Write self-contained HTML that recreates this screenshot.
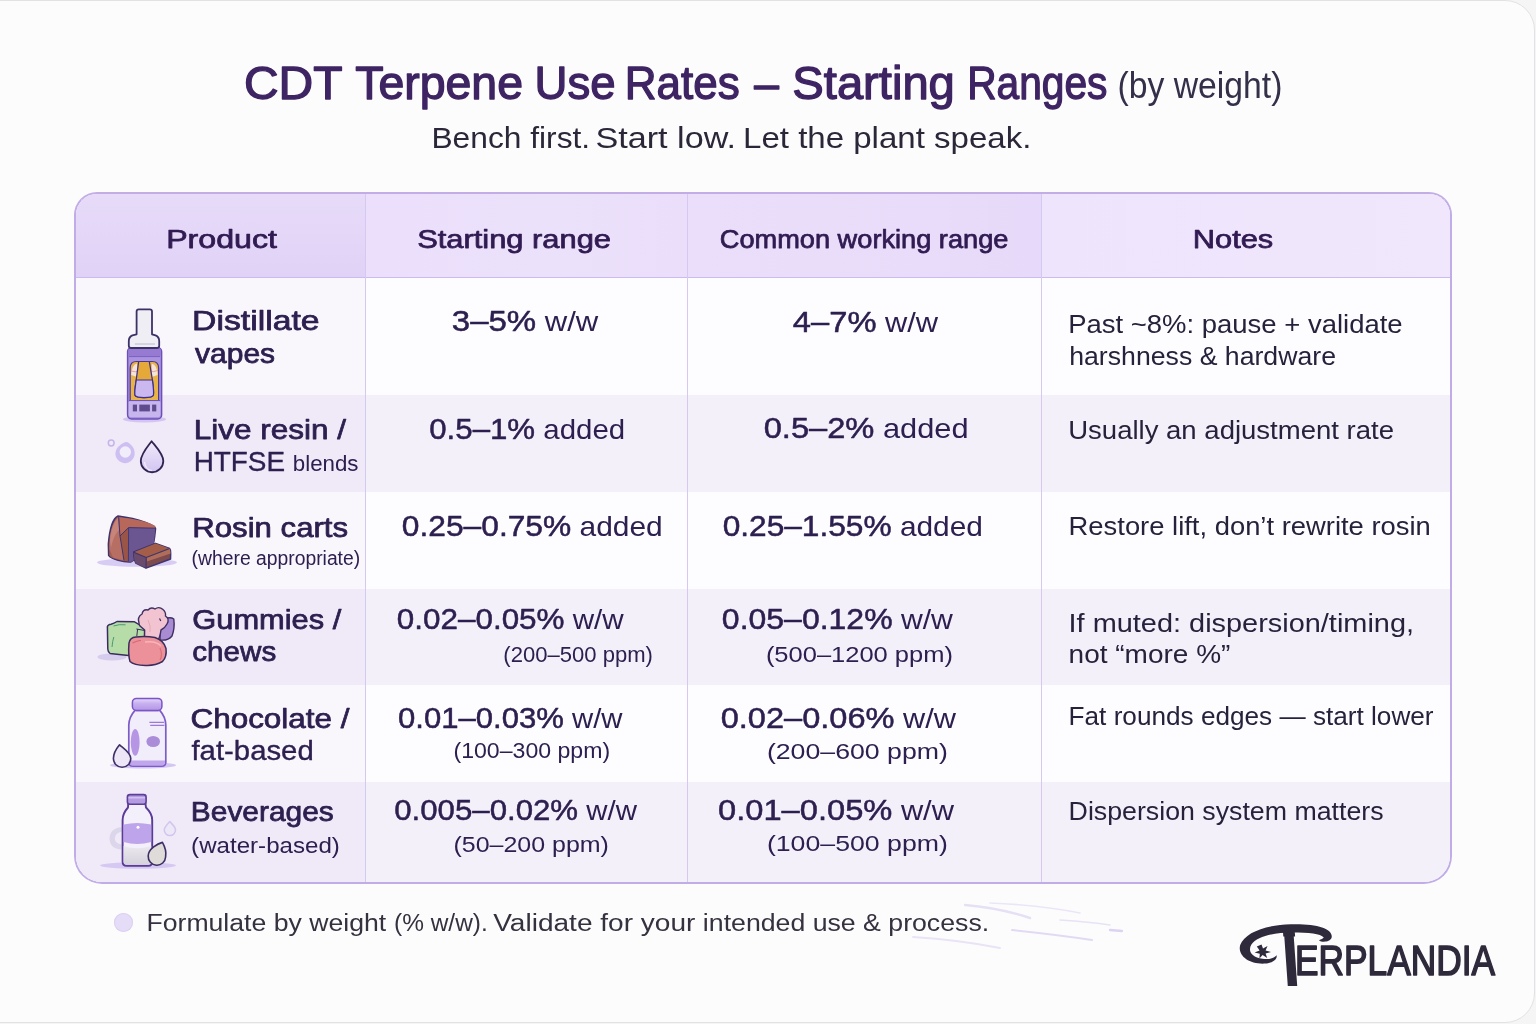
<!DOCTYPE html>
<html lang="en"><head><meta charset="utf-8"><title>CDT Terpene Use Rates — Starting Ranges</title>
<style>
html,body{margin:0;padding:0;}
body{width:1536px;height:1024px;overflow:hidden;position:relative;background:#f5f5f6;font-family:"Liberation Sans",Arial,sans-serif;}
.card{position:absolute;left:-2px;top:0;width:1537px;height:1023px;box-sizing:border-box;border:1.5px solid #e2e2e4;border-radius:0 30px 30px 0;background:#fdfcfd;}
.tbl{position:absolute;left:74px;top:192px;width:1378px;height:692px;box-sizing:border-box;border:2px solid #c0ace7;border-top-color:#c3ade5;border-radius:23px 23px 28px 28px;overflow:hidden;background:#fdfcfe;}
.row{position:absolute;left:0;width:100%;}
.hd{top:0;height:84px;box-sizing:border-box;background:#ebe0fb;border-bottom:1.5px solid #cbbbef;}
.hc{position:absolute;top:0;height:82.5px;}
.hd1{left:0;width:289px;background:linear-gradient(180deg,#e7dbf9 0%,#e0d2f6 100%);}
.hd2{left:289px;width:321.5px;background:linear-gradient(90deg,#ebdffb 0%,#ece1fb 60%,#eadefa 100%);}
.hd3{left:610.5px;width:354px;background:linear-gradient(90deg,#eadefa 0%,#e9dcfa 70%,#e6d9f9 100%);}
.hd4{left:964.5px;width:410px;background:linear-gradient(90deg,#eee4fc 0%,#f0e7fc 100%);}
.w{background:#fdfcfe;}
.t{background:#f4f0fa;}
.c1{position:absolute;left:0;top:0;bottom:0;width:289px;}
.w .c1{background:#f9f6fc;}
.t .c1{background:#f0e9f8;}
.vl{position:absolute;top:0;bottom:0;width:1.2px;background:#d5c9f2;}
.hd .vl{background:#cbbcec;}
.dot{position:absolute;left:114px;top:913px;width:19px;height:19px;border-radius:50%;background:#e5dcf7;box-shadow:inset 0 0 0 1px #dcd0f3;}
.ov{position:absolute;left:0;top:0;}
.ov text{stroke-linejoin:round;font-family:"Liberation Sans",Arial,sans-serif;}
.med{stroke-width:0.35px;}
.sb{stroke-width:0.75px;}
.tb{stroke-width:1.3px;}
.nb{stroke-width:0.5px;}

</style></head>
<body>
<div class="card"></div>
<div class="tbl">
  <div class="row hd"><div class="hc hd1"></div><div class="hc hd2"></div><div class="hc hd3"></div><div class="hc hd4"></div></div>
  <div class="row w" style="top:84px;height:117px"><div class="c1"></div></div>
  <div class="row t" style="top:201px;height:97px"><div class="c1"></div></div>
  <div class="row w" style="top:298px;height:97px"><div class="c1"></div></div>
  <div class="row t" style="top:395px;height:96px"><div class="c1"></div></div>
  <div class="row w" style="top:491px;height:97px"><div class="c1"></div></div>
  <div class="row t" style="top:588px;height:102px"><div class="c1"></div></div>
  <div class="vl" style="left:289px"></div>
  <div class="vl" style="left:610.5px"></div>
  <div class="vl" style="left:964.5px"></div>
</div>
<div class="dot"></div>

<svg class="ov" width="1536" height="1024" viewBox="0 0 1536 1024">
<defs>
  <linearGradient id="gDrop" x1="0" y1="0" x2="0" y2="1">
    <stop offset="0" stop-color="#f1ecfb"/><stop offset="1" stop-color="#d2c4f1"/>
  </linearGradient>
  <linearGradient id="gLid" x1="0" y1="0" x2="0" y2="1">
    <stop offset="0" stop-color="#e6dafa"/><stop offset="0.45" stop-color="#c7aef0"/><stop offset="1" stop-color="#b497e6"/>
  </linearGradient>
  <linearGradient id="gGray" x1="0" y1="0" x2="0" y2="1">
    <stop offset="0" stop-color="#ebe8ef"/><stop offset="1" stop-color="#d6d2dc"/>
  </linearGradient>
</defs>

<!-- ===== vape cartridge ===== -->
<g id="ic-vape">
  <ellipse cx="144.5" cy="419.3" rx="21.5" ry="3.2" fill="#d3c5f1"/>
  <!-- body -->
  <rect x="127.6" y="347.5" width="34" height="71.5" rx="4" fill="#ab93de" stroke="#6c4fba" stroke-width="1.5"/>
  <rect x="128.4" y="348.2" width="32.4" height="8.4" rx="2" fill="#977bd3"/>
  <line x1="129" y1="356.6" x2="160" y2="356.6" stroke="#7a5fc2" stroke-width="1"/>
  <!-- window -->
  <path d="M130.2,400.5 L130.2,368 Q130.2,361.5 136.5,361.5 L152.3,361.5 Q158.6,361.5 158.6,368 L158.6,400.5 Z" fill="#e8b347" stroke="#4b3a8c" stroke-width="1.2"/>
  <path d="M131.2,375 Q131.5,365 137,363.5 L137.2,377 Z" fill="#f6e9ea" opacity="0.9"/>
  <path d="M157.6,375 Q157.3,365 151.8,363.5 L151.6,377 Z" fill="#f6e9ea" opacity="0.9"/>
  <path d="M130.8,371 Q136,373 140,370" stroke="#d98a8a" stroke-width="0.7" fill="none"/>
  <path d="M148.6,370 Q153,373 158,370.5" stroke="#d98a8a" stroke-width="0.7" fill="none"/>
  <!-- inner tube -->
  <path d="M138.6,362 L136.2,380 Q134.3,392 135,395.3 Q136,397.6 144,397.6 Q152.6,397.6 153.4,395 Q154,392 152.4,380 L149.4,362" fill="#e5a93a" stroke="#3f318a" stroke-width="1.3"/>
  <path d="M136.3,380 L152.4,380 Q154,392 153.4,395 Q152.6,397.6 144,397.6 Q136,397.6 135,395.3 Q134.3,392 136.3,380 Z" fill="#cbb8ee" stroke="#3f318a" stroke-width="1.2"/>
  <!-- base -->
  <rect x="128.6" y="400.5" width="31.8" height="16.5" rx="2" fill="#c7b6ee"/>
  <line x1="129" y1="400.6" x2="160" y2="400.6" stroke="#6d52b5" stroke-width="1"/>
  <rect x="132.8" y="404.6" width="4.2" height="6.8" fill="#5f4c8f"/>
  <rect x="139.3" y="404.6" width="10.6" height="6.8" fill="#5f4c8f"/>
  <rect x="152.1" y="404.6" width="4.2" height="6.8" fill="#5f4c8f"/>
  <!-- mouthpiece -->
  <path d="M136.6,334.3 L136.6,311.6 Q136.6,309.4 138.8,309.4 L149.8,309.4 Q152,309.4 152,311.6 L152,334.3 L155.6,335.4 Q159.2,337 159.2,341 L159.2,345.8 Q159.2,348 157,348 L131,348 Q128.8,348 128.8,345.8 L128.8,341 Q128.8,337 132.4,335.4 Z" fill="#efeef4" stroke="#3c3268" stroke-width="1.8" stroke-linejoin="round"/>
  <line x1="134.8" y1="344" x2="155" y2="344" stroke="#b7b2c8" stroke-width="0.9"/>
</g>

<!-- ===== droplets (live resin) ===== -->
<g id="ic-drops">
  <circle cx="111.2" cy="443" r="2.9" fill="none" stroke="#c5b5ea" stroke-width="1.5"/>
  <path d="M125,442.2 Q127.5,441.8 129.5,443.5 Q134.8,448 134.6,452.6 A9.6,9.6 0 1 1 118,447 Q120,444 125,442.2 Z" fill="#cdbff1"/>
  <circle cx="125.3" cy="452" r="5.7" fill="#f2edfa"/>
  <path d="M151.6,441.2 C148,446 140.8,454 140.8,461 A11.2,11.2 0 0 0 163.3,461 C163.3,454 155.3,446 151.6,441.2 Z" fill="url(#gDrop)" stroke="#2f2550" stroke-width="1.8" stroke-linejoin="round"/>
  <path d="M144.5,462 Q145.5,470 152,470.5" fill="none" stroke="#ffffff" stroke-width="1.2" opacity="0.7"/>
</g>

<!-- ===== rosin blocks ===== -->
<g id="ic-rosin" stroke-linejoin="round">
  <ellipse cx="137" cy="562.5" rx="40" ry="4.3" fill="#d7ccf4"/>
  <path d="M118,516 C113,518 109.5,530 108.3,544 L108.6,555.5 C111,559.5 124,562.5 131,562 L151.6,548.6 C154,546 154.5,540 155.6,528.5 C155.5,525.2 140,519 118,516 Z" fill="#a85d4f" stroke="#3d3471" stroke-width="1.4"/>
  <path d="M120,536 L128.6,527.6 L128.4,561.4 L124,560.5 Z" fill="#9a5546"/>
  <path d="M128.6,527.6 L155,528.2 C154.4,540 154,545.5 151.6,548.6 L131,562 L128.4,561.4 Z" fill="#6b5692"/>
  <path d="M128.6,527.6 L128.4,561.4" stroke="#3d3471" stroke-width="0.9"/>
  <path d="M120,536 L128.6,527.6 L155,528.2 L155.4,526 C150,522.5 135,518.5 120,517.5 Z" fill="#b8685a"/>
  <path d="M118.6,517.2 L120,536 L124,560.5 L113,557.5 L109.5,549 L110,538 C111,528 114,520 118.6,517.2 Z" fill="#b86f63"/>
  <path d="M110,540 C111,530 114,522 118,518 L119,530 C116,533 113,538 111,548 Z" fill="#c98a80" opacity="0.8"/>
  <path d="M120,536 L128.6,527.6 L155,528.2" fill="none" stroke="#3d3471" stroke-width="1"/>
  <path d="M118.6,517.2 L120,536 L124,560.5" fill="none" stroke="#3d3471" stroke-width="1"/>
  <!-- small block -->
  <path d="M133.7,552 L155.6,543.3 L169.6,548.4 Q171,550 170.7,553 L170.6,559 L146,568.2 L135.8,563.2 Q134,560 133.7,555 Z" fill="#7d4a4d" stroke="#3d3471" stroke-width="1.4"/>
  <path d="M133.8,552.2 L155.6,543.4 L169.6,548.4 L146.2,557.6 Z" fill="#a45e48"/>
  <path d="M146.2,557.6 L169.8,548.6 L170.6,553.5 L147,561.6 Z" fill="#b06e5a"/>
  <path d="M133.8,552.2 L146.2,557.6 L146,568 L135.8,563.2 Q134,560 133.8,555 Z" fill="#6a4b6d"/>
  <path d="M133.8,552.2 L146.2,557.6 L169.6,548.4 M146.2,557.6 L146,568" fill="none" stroke="#3d3471" stroke-width="1.1"/>
</g>

<!-- ===== gummies ===== -->
<g id="ic-gummy" stroke-linejoin="round">
  <ellipse cx="112" cy="657" rx="14.5" ry="3.4" fill="#d6cdee"/>
  <!-- back purple side -->
  <path d="M160,620 Q170,616 173.8,619 Q175,628 172,636 Q168,641 160,640 Z" fill="#a98bd4" stroke="#3f2f62" stroke-width="1.4"/>
  <!-- pink flower -->
  <path d="M139,623 Q137,617 142,614 Q143,609 148,610 Q151,606.5 155,609 Q159,606 163,609.5 Q166,612 165.5,616 Q170,619 167,624 Q165,628 161,630 Q160,637 158,640 L146,640 Q138,633 139,623 Z" fill="#f2c3d0" stroke="#3f2f62" stroke-width="1.4"/>
  <path d="M159.5,618.5 L160.8,621" stroke="#3f2f62" stroke-width="1.2"/>
  <path d="M148,620 Q151,626 150,632" stroke="#e6a8b8" stroke-width="1" fill="none"/>
  <!-- green cube -->
  <path d="M107.4,626.5 Q108,624.5 111,624.2 Q114,623.5 117,621.5 L134.5,621.8 Q139,624 140,626 L144.6,630 L144.4,640.5 Q137,647 128.4,655.4 L110,653.4 Q108,652.4 107.8,649 Z" fill="#b6dca8" stroke="#3a2d5e" stroke-width="1.5"/>
  <path d="M113.5,626 Q119,624 125.6,624.8" stroke="#4c9a73" stroke-width="1" fill="none"/>
  <path d="M113.8,637 Q112.5,641 112,647" stroke="#4c9a73" stroke-width="1" fill="none"/>
  <path d="M136.4,629 L144,630.4 M137.6,629.2 L136.8,636" stroke="#3a2d5e" stroke-width="1" fill="none"/>
  <!-- red gummy -->
  <path d="M129,643 Q129.8,637.5 136,637 Q146,636 155,637.5 Q164,640.5 166,648.5 Q167,657 162.5,661.5 Q155,665.8 146,665.4 Q134,665.5 130,661.5 Q128,655 129,643 Z" fill="#ec9199" stroke="#3a2d5e" stroke-width="1.5"/>
  <path d="M132.5,643 Q138,640 141,640.5" stroke="#d96572" stroke-width="1.1" fill="none"/>
  <path d="M145,642 Q156,640.5 161,646" stroke="#f5b6bb" stroke-width="1.6" fill="none"/>
  <path d="M160,648 Q163,655 160,660" stroke="#d9707a" stroke-width="1.2" fill="none"/>
</g>

<!-- ===== chocolate / fat jar ===== -->
<g id="ic-jar" stroke-linejoin="round">
  <ellipse cx="143" cy="765.3" rx="33" ry="3.2" fill="#d4c6f3"/>
  <!-- body -->
  <path d="M135,710.4 L159.8,710.4 Q165.6,717 165.8,725 L165.8,762 Q165.8,766.2 161.6,766.2 L133,766.2 Q128.8,766.2 128.8,762 L128.8,725 Q129,717 135,710.4 Z" fill="#f2edfb" stroke="#7d5cc8" stroke-width="1.7"/>
  <path d="M129.6,760.5 L165,760.5 L165,762 Q165,765.4 161.6,765.4 L133,765.4 Q129.6,765.4 129.6,762 Z" fill="#c0a6ec"/>
  <ellipse cx="135.2" cy="742.3" rx="4.4" ry="13.4" fill="#b696e4"/>
  <ellipse cx="153.2" cy="741.5" rx="6.8" ry="5.5" fill="#ab8cd9"/>
  <path d="M149.4,722.4 L164,722.4 M150.2,725.4 L164.4,725.4" stroke="#9a7ad6" stroke-width="1.2"/>
  <!-- lid -->
  <rect x="132.4" y="698.4" width="29.5" height="12" rx="4" fill="url(#gLid)" stroke="#7a55c4" stroke-width="1.5"/>
  <!-- drop -->
  <path d="M119.6,744.8 C117,748 113.4,752 113.4,758.6 A8.7,8.7 0 0 0 130.8,758.6 C130.8,752.6 123,748 119.6,744.8 Z" fill="#ece6f7" stroke="#3d2f66" stroke-width="1.6"/>
</g>

<!-- ===== beverage bottle ===== -->
<g id="ic-bottle" stroke-linejoin="round">
  <ellipse cx="138" cy="865.5" rx="38" ry="3.2" fill="#d5c8f3"/>
  <!-- ring behind -->
  <path d="M121.6,827.2 Q110,828 109.5,838.5 Q110,849 121.6,849.4 L121.6,844.5 Q115,843.5 114.8,838.5 Q115.5,832.5 121.6,831.8 Z" fill="#dcd6ea"/>
  <!-- small floating drop -->
  <path d="M169.8,821.6 C167.5,824 164.3,827 164.3,830 A5.6,5.6 0 0 0 175.5,830 C175.5,827 172,824 169.8,821.6 Z" fill="#ede8f7" stroke="#d1c6ec" stroke-width="1.5"/>
  <!-- bottle -->
  <path d="M128.2,803.6 L145.4,803.6 L146,807.5 Q152.2,813.5 152.2,820 L152.2,861.8 Q152.2,865.8 148.2,865.8 L126.6,865.8 Q122.6,865.8 122.6,861.8 L122.6,820 Q122.6,813.5 128,807.5 Z" fill="#f4f0fb" stroke="#5a3b98" stroke-width="1.9"/>
  <path d="M123.6,824.6 Q137,821.5 151.2,824.6 L151.2,842 Q137,846 123.6,842 Z" fill="#bea4ea"/>
  <path d="M123.6,846 Q137,850.5 151.2,846 L151.2,861.5 Q151.2,864.8 148,864.8 L126.8,864.8 Q123.6,864.8 123.6,861.5 Z" fill="url(#gGray)"/>
  <circle cx="138" cy="827.3" r="1.5" fill="#ffffff"/>
  <!-- cap -->
  <rect x="127.4" y="794.6" width="18.7" height="9.6" rx="2.5" fill="#b59be1" stroke="#5d3f9a" stroke-width="1.6"/>
  <line x1="128.5" y1="797.8" x2="145" y2="797.8" stroke="#d9cbf3" stroke-width="1.2"/>
  <!-- front drop -->
  <path d="M162.4,842.4 C158,843.5 148.2,849 148.2,856 A8.6,8.6 0 0 0 165.6,857 C166.5,852 164.5,846 162.4,842.4 Z" fill="#dedbd8" stroke="#3d2f66" stroke-width="1.6"/>
</g>

<!-- ===== footer brush strokes ===== -->
<g id="strokes" fill="none" stroke-linecap="round">
  <path d="M965,905 Q1000,908 1030,918" stroke="#e6e0f5" stroke-width="2.4"/>
  <path d="M990,903 Q1040,905 1080,913" stroke="#ebe6f7" stroke-width="1.6"/>
  <path d="M1012,930 Q1060,935 1092,940" stroke="#e2daf4" stroke-width="2"/>
  <path d="M913,937 Q960,940 1000,948" stroke="#e9e3f6" stroke-width="1.8"/>
  <path d="M1060,920 Q1090,922 1110,925" stroke="#e8e2f6" stroke-width="1.5"/>
  <path d="M1110,930 L1122,931" stroke="#dcd3f2" stroke-width="2.4"/>
</g>

<g id="logo" fill="#2f2a3b">
  <path d="M1331.5,938 C1334,929 1318,923.5 1291,924.2 C1265,925 1245,932.5 1240.2,945 C1237.2,955.5 1249,964.5 1265,963.6 C1272.5,963 1277.5,959.5 1276.6,955.2 C1273.5,958.6 1268,959.6 1262.5,958.8 C1251.5,957.2 1247.6,950.8 1251.4,944.6 C1257,936.4 1274,932.6 1292,932.6 C1309,932.6 1320.6,933.8 1323.8,937.6 C1322.5,939.4 1320,939.6 1319,940.4 C1322,942.6 1330,942 1331.5,938 Z"/>
  <path d="M1261.5,944.5 L1263,948.5 L1267.5,946 L1265.6,950.6 L1271,952 L1265.6,953.4 L1267.2,958 L1262.6,955 L1259.4,958.6 L1259.8,953.8 L1254.6,952.4 L1259.6,950.4 L1256.8,946.4 Z"/>
  <clipPath id="tclip"><path d="M1283.8,931 L1295.6,931 L1295.6,990 L1283.8,990 Z"/></clipPath>
  <text clip-path="url(#tclip)" transform="skewX(4) translate(-66,0)" x="1269.5" y="986" font-size="86" font-weight="700" font-family="Liberation Sans, Arial, sans-serif" textLength="40" lengthAdjust="spacingAndGlyphs">T</text>
  <text x="1295" y="975" font-size="42" font-weight="400" stroke="#2f2a3b" stroke-width="1.6" stroke-linejoin="round" font-family="Liberation Sans, Arial, sans-serif" textLength="200" lengthAdjust="spacingAndGlyphs">ERPLANDIA</text>
</g>

<g class="tx">
<text id="t1" x="243.96" y="99.20" font-size="46.00" fill="#3e2463" stroke="#3e2463" stroke-width="0" textLength="98.68" lengthAdjust="spacingAndGlyphs"><tspan class="tb">CDT</tspan></text>
<text id="t2" x="355.16" y="99.20" font-size="46.00" fill="#3e2463" stroke="#3e2463" stroke-width="0" textLength="167.88" lengthAdjust="spacingAndGlyphs"><tspan class="tb">Terpene</tspan></text>
<text id="t3" x="534.56" y="99.20" font-size="46.00" fill="#3e2463" stroke="#3e2463" stroke-width="0" textLength="81.08" lengthAdjust="spacingAndGlyphs"><tspan class="tb">Use</tspan></text>
<text id="t4" x="624.76" y="99.20" font-size="46.00" fill="#3e2463" stroke="#3e2463" stroke-width="0" textLength="114.88" lengthAdjust="spacingAndGlyphs"><tspan class="tb">Rates</tspan></text>
<text id="t5" x="754.16" y="99.20" font-size="46.00" fill="#3e2463" stroke="#3e2463" stroke-width="0" textLength="24.68" lengthAdjust="spacingAndGlyphs"><tspan class="tb">–</tspan></text>
<text id="t6" x="792.36" y="99.20" font-size="46.00" fill="#3e2463" stroke="#3e2463" stroke-width="0" textLength="162.48" lengthAdjust="spacingAndGlyphs"><tspan class="tb">Starting</tspan></text>
<text id="t7" x="967.16" y="99.20" font-size="46.00" fill="#3e2463" stroke="#3e2463" stroke-width="0" textLength="140.28" lengthAdjust="spacingAndGlyphs"><tspan class="tb">Ranges</tspan></text>
<text id="title2" x="1117.52" y="97.80" font-size="37.00" fill="#34304a" stroke="#34304a" stroke-width="0" textLength="164.96" lengthAdjust="spacingAndGlyphs"><tspan>(by weight)</tspan></text>
<text id="sb1" x="431.45" y="147.60" font-size="28.70" fill="#2b2739" stroke="#2b2739" stroke-width="0" textLength="158.70" lengthAdjust="spacingAndGlyphs"><tspan>Bench first.</tspan></text>
<text id="sb2" x="595.45" y="147.60" font-size="28.70" fill="#2b2739" stroke="#2b2739" stroke-width="0" textLength="140.50" lengthAdjust="spacingAndGlyphs"><tspan>Start low.</tspan></text>
<text id="sb3" x="743.05" y="147.60" font-size="28.70" fill="#2b2739" stroke="#2b2739" stroke-width="0" textLength="288.30" lengthAdjust="spacingAndGlyphs"><tspan>Let the plant speak.</tspan></text>
<text id="h1" x="166.16" y="247.70" font-size="26.00" fill="#311b52" stroke="#311b52" stroke-width="0" textLength="110.88" lengthAdjust="spacingAndGlyphs"><tspan class="sb">Product</tspan></text>
<text id="h2" x="417.16" y="247.80" font-size="26.00" fill="#311b52" stroke="#311b52" stroke-width="0" textLength="193.88" lengthAdjust="spacingAndGlyphs"><tspan class="sb">Starting range</tspan></text>
<text id="h3" x="719.76" y="248.40" font-size="26.00" fill="#311b52" stroke="#311b52" stroke-width="0" textLength="288.68" lengthAdjust="spacingAndGlyphs"><tspan class="sb">Common working range</tspan></text>
<text id="h4" x="1192.76" y="247.70" font-size="26.00" fill="#311b52" stroke="#311b52" stroke-width="0" textLength="80.48" lengthAdjust="spacingAndGlyphs"><tspan class="sb">Notes</tspan></text>
<text id="p1a" x="192.08" y="330.20" font-size="28.00" fill="#2d2050" stroke="#2d2050" stroke-width="0" textLength="127.44" lengthAdjust="spacingAndGlyphs"><tspan class="sb">Distillate</tspan></text>
<text id="p1b" x="195.08" y="363.00" font-size="28.00" fill="#2d2050" stroke="#2d2050" stroke-width="0" textLength="80.04" lengthAdjust="spacingAndGlyphs"><tspan class="sb">vapes</tspan></text>
<text id="s1" x="451.88" y="331.30" font-size="28.00" fill="#2d2050" stroke="#2d2050" stroke-width="0" textLength="146.44" lengthAdjust="spacingAndGlyphs"><tspan class="nb" font-size="29.7">3–5%</tspan><tspan> w/w</tspan></text>
<text id="c1" x="792.88" y="331.60" font-size="28.00" fill="#2d2050" stroke="#2d2050" stroke-width="0" textLength="145.24" lengthAdjust="spacingAndGlyphs"><tspan class="nb" font-size="29.7">4–7%</tspan><tspan> w/w</tspan></text>
<text id="n1a" x="1068.19" y="332.60" font-size="25.30" fill="#26223b" stroke="#26223b" stroke-width="0" textLength="334.42" lengthAdjust="spacingAndGlyphs"><tspan>Past ~8%: pause + validate</tspan></text>
<text id="n1b" x="1069.19" y="364.80" font-size="25.30" fill="#26223b" stroke="#26223b" stroke-width="0" textLength="266.82" lengthAdjust="spacingAndGlyphs"><tspan>harshness &amp; hardware</tspan></text>
<text id="p2a" x="193.68" y="438.70" font-size="28.00" fill="#2d2050" stroke="#2d2050" stroke-width="0" textLength="152.44" lengthAdjust="spacingAndGlyphs"><tspan class="sb">Live resin /</tspan></text>
<text id="p2b" x="193.68" y="471.40" font-size="28.00" fill="#2d2050" stroke="#2d2050" stroke-width="0" textLength="164.84" lengthAdjust="spacingAndGlyphs"><tspan class="med">HTFSE</tspan><tspan> </tspan><tspan font-size="22.4">blends</tspan></text>
<text id="s2" x="429.28" y="438.50" font-size="28.00" fill="#2d2050" stroke="#2d2050" stroke-width="0" textLength="195.84" lengthAdjust="spacingAndGlyphs"><tspan class="nb" font-size="29.7">0.5–1%</tspan><tspan> added</tspan></text>
<text id="c2" x="763.68" y="437.90" font-size="28.00" fill="#2d2050" stroke="#2d2050" stroke-width="0" textLength="204.84" lengthAdjust="spacingAndGlyphs"><tspan class="nb" font-size="29.7">0.5–2%</tspan><tspan> added</tspan></text>
<text id="n2" x="1068.19" y="439.00" font-size="25.30" fill="#26223b" stroke="#26223b" stroke-width="0" textLength="325.82" lengthAdjust="spacingAndGlyphs"><tspan>Usually an adjustment rate</tspan></text>
<text id="p3a" x="192.28" y="536.50" font-size="28.00" fill="#2d2050" stroke="#2d2050" stroke-width="0" textLength="155.84" lengthAdjust="spacingAndGlyphs"><tspan class="sb">Rosin carts</tspan></text>
<text id="p3b" x="191.62" y="564.60" font-size="19.50" fill="#2d2050" stroke="#2d2050" stroke-width="0" textLength="168.56" lengthAdjust="spacingAndGlyphs"><tspan>(where appropriate)</tspan></text>
<text id="s3" x="401.88" y="535.70" font-size="28.00" fill="#2d2050" stroke="#2d2050" stroke-width="0" textLength="260.84" lengthAdjust="spacingAndGlyphs"><tspan class="nb" font-size="29.7">0.25–0.75%</tspan><tspan> added</tspan></text>
<text id="c3" x="722.68" y="535.70" font-size="28.00" fill="#2d2050" stroke="#2d2050" stroke-width="0" textLength="260.24" lengthAdjust="spacingAndGlyphs"><tspan class="nb" font-size="29.7">0.25–1.55%</tspan><tspan> added</tspan></text>
<text id="n3" x="1068.59" y="534.60" font-size="25.30" fill="#26223b" stroke="#26223b" stroke-width="0" textLength="362.22" lengthAdjust="spacingAndGlyphs"><tspan>Restore lift, don’t rewrite rosin</tspan></text>
<text id="p4a" x="192.28" y="629.00" font-size="28.00" fill="#2d2050" stroke="#2d2050" stroke-width="0" textLength="149.04" lengthAdjust="spacingAndGlyphs"><tspan class="sb">Gummies /</tspan></text>
<text id="p4b" x="192.28" y="661.00" font-size="28.00" fill="#2d2050" stroke="#2d2050" stroke-width="0" textLength="84.04" lengthAdjust="spacingAndGlyphs"><tspan class="sb">chews</tspan></text>
<text id="s4" x="396.88" y="628.90" font-size="28.00" fill="#2d2050" stroke="#2d2050" stroke-width="0" textLength="226.84" lengthAdjust="spacingAndGlyphs"><tspan class="nb" font-size="29.7">0.02–0.05%</tspan><tspan> w/w</tspan></text>
<text id="s4b" x="503.30" y="661.70" font-size="22.50" fill="#2d2050" stroke="#2d2050" stroke-width="0" textLength="149.60" lengthAdjust="spacingAndGlyphs"><tspan>(200–500 ppm)</tspan></text>
<text id="c4" x="721.88" y="628.90" font-size="28.00" fill="#2d2050" stroke="#2d2050" stroke-width="0" textLength="231.04" lengthAdjust="spacingAndGlyphs"><tspan class="nb" font-size="29.7">0.05–0.12%</tspan><tspan> w/w</tspan></text>
<text id="c4b" x="765.90" y="661.70" font-size="22.50" fill="#2d2050" stroke="#2d2050" stroke-width="0" textLength="187.00" lengthAdjust="spacingAndGlyphs"><tspan>(500–1200 ppm)</tspan></text>
<text id="n4a" x="1068.59" y="631.50" font-size="25.30" fill="#26223b" stroke="#26223b" stroke-width="0" textLength="345.42" lengthAdjust="spacingAndGlyphs"><tspan>If muted: dispersion/timing,</tspan></text>
<text id="n4b" x="1068.59" y="662.80" font-size="25.30" fill="#26223b" stroke="#26223b" stroke-width="0" textLength="161.82" lengthAdjust="spacingAndGlyphs"><tspan>not “more %”</tspan></text>
<text id="p5a" x="190.48" y="727.60" font-size="28.00" fill="#2d2050" stroke="#2d2050" stroke-width="0" textLength="159.04" lengthAdjust="spacingAndGlyphs"><tspan class="sb">Chocolate /</tspan></text>
<text id="p5b" x="191.48" y="759.60" font-size="28.00" fill="#2d2050" stroke="#2d2050" stroke-width="0" textLength="122.24" lengthAdjust="spacingAndGlyphs"><tspan class="med">fat-based</tspan></text>
<text id="s5" x="398.08" y="727.50" font-size="28.00" fill="#2d2050" stroke="#2d2050" stroke-width="0" textLength="224.44" lengthAdjust="spacingAndGlyphs"><tspan class="nb" font-size="29.7">0.01–0.03%</tspan><tspan> w/w</tspan></text>
<text id="s5b" x="453.50" y="757.80" font-size="22.50" fill="#2d2050" stroke="#2d2050" stroke-width="0" textLength="156.60" lengthAdjust="spacingAndGlyphs"><tspan>(100–300 ppm)</tspan></text>
<text id="c5" x="720.68" y="727.50" font-size="28.00" fill="#2d2050" stroke="#2d2050" stroke-width="0" textLength="235.24" lengthAdjust="spacingAndGlyphs"><tspan class="nb" font-size="29.7">0.02–0.06%</tspan><tspan> w/w</tspan></text>
<text id="c5b" x="766.90" y="758.70" font-size="22.50" fill="#2d2050" stroke="#2d2050" stroke-width="0" textLength="181.00" lengthAdjust="spacingAndGlyphs"><tspan>(200–600 ppm)</tspan></text>
<text id="n5" x="1068.59" y="724.60" font-size="25.30" fill="#26223b" stroke="#26223b" stroke-width="0" textLength="365.02" lengthAdjust="spacingAndGlyphs"><tspan>Fat rounds edges — start lower</tspan></text>
<text id="p6a" x="190.88" y="821.00" font-size="28.00" fill="#2d2050" stroke="#2d2050" stroke-width="0" textLength="142.84" lengthAdjust="spacingAndGlyphs"><tspan class="sb">Beverages</tspan></text>
<text id="p6b" x="191.14" y="853.30" font-size="21.50" fill="#2d2050" stroke="#2d2050" stroke-width="0" textLength="148.72" lengthAdjust="spacingAndGlyphs"><tspan>(water-based)</tspan></text>
<text id="s6" x="394.28" y="819.90" font-size="28.00" fill="#2d2050" stroke="#2d2050" stroke-width="0" textLength="242.64" lengthAdjust="spacingAndGlyphs"><tspan class="nb" font-size="29.7">0.005–0.02%</tspan><tspan> w/w</tspan></text>
<text id="s6b" x="453.50" y="851.70" font-size="22.50" fill="#2d2050" stroke="#2d2050" stroke-width="0" textLength="155.40" lengthAdjust="spacingAndGlyphs"><tspan>(50–200 ppm)</tspan></text>
<text id="c6" x="718.08" y="819.90" font-size="28.00" fill="#2d2050" stroke="#2d2050" stroke-width="0" textLength="235.84" lengthAdjust="spacingAndGlyphs"><tspan class="nb" font-size="29.7">0.01–0.05%</tspan><tspan> w/w</tspan></text>
<text id="c6b" x="766.90" y="851.10" font-size="22.50" fill="#2d2050" stroke="#2d2050" stroke-width="0" textLength="181.00" lengthAdjust="spacingAndGlyphs"><tspan>(100–500 ppm)</tspan></text>
<text id="n6" x="1068.59" y="820.20" font-size="25.30" fill="#26223b" stroke="#26223b" stroke-width="0" textLength="315.02" lengthAdjust="spacingAndGlyphs"><tspan>Dispersion system matters</tspan></text>
<text id="f1" x="146.46" y="931.20" font-size="23.50" fill="#35313f" stroke="#35313f" stroke-width="0" textLength="239.68" lengthAdjust="spacingAndGlyphs"><tspan>Formulate by weight</tspan></text>
<text id="f2" x="394.06" y="931.20" font-size="23.50" fill="#35313f" stroke="#35313f" stroke-width="0" textLength="93.68" lengthAdjust="spacingAndGlyphs"><tspan>(% w/w).</tspan></text>
<text id="f3" x="493.26" y="931.20" font-size="23.50" fill="#35313f" stroke="#35313f" stroke-width="0" textLength="202.08" lengthAdjust="spacingAndGlyphs"><tspan>Validate for your</tspan></text>
<text id="f4" x="702.86" y="931.20" font-size="23.50" fill="#35313f" stroke="#35313f" stroke-width="0" textLength="286.28" lengthAdjust="spacingAndGlyphs"><tspan>intended use &amp; process.</tspan></text>
</g>
</svg>
</body></html>
